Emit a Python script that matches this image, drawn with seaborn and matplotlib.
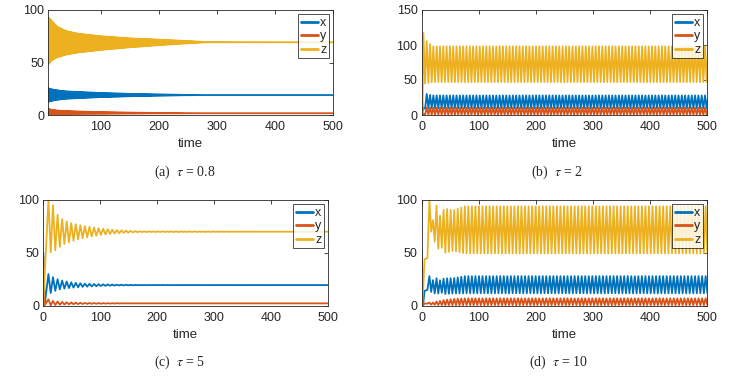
import numpy as np
import pandas as pd
import matplotlib
matplotlib.use("Agg")
import matplotlib.pyplot as plt
import seaborn as sns

# ---------------- data ----------------
T_END = 500
series_names = ["x", "y", "z"]
series_colors = ["#0072BD", "#D95319", "#EDB120"]

# (a) tau = 0.8 : fast oscillation, envelopes at knot times
a_period = 1.6
a_start = 9.6
a_knots = [9.6, 15, 25, 40, 60, 100, 150, 200, 250, 280, 500]
a_z_hi = [93, 90, 84, 80, 77.5, 75, 73, 71.8, 70.5, 69.5, 69.3]
a_z_lo = [48, 52, 55, 57.5, 59.5, 62, 64.5, 66.5, 68.3, 69.2, 69.3]
a_x_hi = [25.5, 24.5, 23.5, 22.5, 22, 21, 20.2, 19.6, 19.2, 19.0, 19.0]
a_x_lo = [12.5, 13.5, 14.5, 15.5, 16, 17, 17.8, 18.4, 18.8, 19.0, 19.0]
a_y_hi = [6, 5, 4.3, 3.8, 3.4, 2.8, 2.3, 2.0, 1.8, 1.7, 1.7]
a_y_lo = [0.5, 0.7, 0.9, 1.0, 1.1, 1.2, 1.4, 1.5, 1.6, 1.7, 1.7]

# (b) tau = 2 : sustained oscillation
b_pre_t = [0, 1.2, 3.0]
b_z_pre = [50, 2, 117]
b_x_pre = [50, 5, 10]
b_y_pre = [50, 0.5, 2]
b_period = 5.8
b_start = 5.9
b_knots = [5.9, 12, 20, 500]
b_z_hi = [108, 103, 98, 98]
b_z_lo = [45, 46, 47, 47]
b_x_hi = [31, 29, 28, 28]
b_x_lo = [9, 9.5, 9.5, 9.5]
b_y_hi = [11, 10.5, 10.5, 10.5]
b_y_lo = [0.5, 0.5, 0.5, 0.5]

# (c) tau = 5 : damped oscillation
c_pre_t = [0, 2.5]
c_z_pre = [0, 30]
c_x_pre = [50, 1]
c_y_pre = [47, 0.5]
c_period = 8.0
c_start = 9.0
c_knots = [9, 17, 25, 35, 50, 70, 100, 130, 170, 500]
c_z_hi = [100, 95, 86, 81, 78, 75.5, 73, 71.5, 70.3, 70]
c_z_lo = [50, 51, 54, 58, 61, 64, 67, 68.5, 69.7, 70]
c_x_hi = [30, 27, 25, 23.5, 22, 21, 20.3, 19.9, 19.6, 19.5]
c_x_lo = [11, 13, 15, 16, 17, 17.8, 18.6, 19.1, 19.4, 19.5]
c_y_hi = [6, 4.5, 4, 3.5, 3, 2.7, 2.4, 2.3, 2.2, 2.2]
c_y_lo = [0.3, 0.5, 0.8, 1.0, 1.3, 1.6, 1.9, 2.1, 2.2, 2.2]

# (d) tau = 10 : sustained oscillation after irregular transient
d_pre_t = [0, 2.5, 5, 10]
d_z_pre = [0, 15, 44, 45]
d_x_pre = [50, 1, 14, 15]
d_y_pre = [47, 0.5, 2, 2]
d_period = 6.2
d_start = 13.5
d_knots = [13.5, 20, 26, 32, 40, 55, 75, 500]
d_z_hi = [100, 80, 95, 85, 92, 90, 94, 94]
d_z_lo = [70, 70, 50, 58, 50, 52, 49.5, 49.5]
d_x_hi = [28, 24, 26, 24, 26, 26, 28, 28]
d_x_lo = [13, 13, 10, 13, 11, 11.5, 11.7, 11.7]
d_y_hi = [3, 3, 4, 4.5, 5.5, 6.5, 7, 7]
d_y_lo = [1, 1, 0.7, 0.6, 0.5, 0.5, 0.5, 0.5]

captions = [r"(a)  $\tau$ = 0.8", r"(b)  $\tau$ = 2", r"(c)  $\tau$ = 5", r"(d)  $\tau$ = 10"]


def zigzag(pre_t, pre_v, start, period, knots, hi, lo, start_high=True):
    t = np.arange(start, T_END + period, period / 2.0)
    up = np.interp(t, knots, hi)
    dn = np.interp(t, knots, lo)
    even = (np.arange(len(t)) % 2 == 0)
    v = np.where(even == start_high, up, dn)
    return np.concatenate([np.asarray(pre_t, float), t]), np.concatenate([np.asarray(pre_v, float), v])


def frame(parts):
    rows = []
    for name, (t, v) in zip(series_names, parts):
        rows.append(pd.DataFrame({"time": t, "value": v, "var": name}))
    return pd.concat(rows, ignore_index=True)


df_a = frame([
    zigzag([], [], a_start, a_period, a_knots, a_x_hi, a_x_lo),
    zigzag([], [], a_start, a_period, a_knots, a_y_hi, a_y_lo),
    zigzag([], [], a_start, a_period, a_knots, a_z_hi, a_z_lo),
])
df_b = frame([
    zigzag(b_pre_t, b_x_pre, b_start, b_period, b_knots, b_x_hi, b_x_lo, False),
    zigzag(b_pre_t, b_y_pre, b_start, b_period, b_knots, b_y_hi, b_y_lo, False),
    zigzag(b_pre_t, b_z_pre, b_start, b_period, b_knots, b_z_hi, b_z_lo, False),
])
df_c = frame([
    zigzag(c_pre_t, c_x_pre, c_start, c_period, c_knots, c_x_hi, c_x_lo),
    zigzag(c_pre_t, c_y_pre, c_start, c_period, c_knots, c_y_hi, c_y_lo),
    zigzag(c_pre_t, c_z_pre, c_start, c_period, c_knots, c_z_hi, c_z_lo),
])
df_d = frame([
    zigzag(d_pre_t, d_x_pre, d_start, d_period, d_knots, d_x_hi, d_x_lo),
    zigzag(d_pre_t, d_y_pre, d_start, d_period, d_knots, d_y_hi, d_y_lo),
    zigzag(d_pre_t, d_z_pre, d_start, d_period, d_knots, d_z_hi, d_z_lo),
])

# ---------------- drawing ----------------
sns.set_style("white")
plt.rcParams["font.family"] = ["Liberation Sans", "DejaVu Sans"]
plt.rcParams["mathtext.fontset"] = "stix"

W, H = 754, 378
fig = plt.figure(figsize=(W / 100, H / 100), dpi=100)

# (left, top, width, height) in pixels
boxes = [(48.3, 10, 285, 105), (421.7, 10, 285.6, 105),
         (43.3, 200, 285, 105.7), (421.7, 200, 285.6, 105.7)]
xlims = [(9.6, 500), (0, 500), (0, 500), (0, 500)]
ylims = [(0, 100), (0, 150), (0, 100), (0, 100)]
yticks = [[0, 50, 100], [0, 50, 100, 150], [0, 50, 100], [0, 50, 100]]
cap_pos = [(185, 172), (557, 172), (180, 362), (558, 362)]
dfs = [df_a, df_b, df_c, df_d]
edge = "#262626"

for i, df in enumerate(dfs):
    l, t, w, h = boxes[i]
    ax = fig.add_axes([l / W, 1 - (t + h) / H, w / W, h / H])
    sns.lineplot(data=df, x="time", y="value", hue="var", hue_order=series_names,
                 palette=series_colors, estimator=None, sort=False, legend=False,
                 linewidth=1.3, ax=ax)
    ax.set_xlim(*xlims[i])
    ax.set_ylim(*ylims[i])
    ax.set_xticks([0, 100, 200, 300, 400, 500] if i else [100, 200, 300, 400, 500])
    ax.set_yticks(yticks[i])
    ax.set_xlabel("time", fontsize=9.5, color=edge, labelpad=3.5)
    ax.set_ylabel("")
    ax.tick_params(direction="in", top=True, right=True, length=3, width=0.6,
                   labelsize=9, colors=edge, pad=3)
    ax.tick_params(axis="x", pad=4.5)
    for s in ax.spines.values():
        s.set_color(edge)
        s.set_linewidth(0.6)
    handles = ax.get_lines()[:3]
    leg = ax.legend(handles, series_names, loc="upper right", fontsize=9,
                    frameon=True, fancybox=False, handlelength=1.4,
                    handletextpad=0.15, borderpad=0.2, labelspacing=0.12,
                    borderaxespad=0.35)
    leg.get_frame().set_edgecolor("black")
    leg.get_frame().set_linewidth(0.6)
    for lh in leg.get_lines():
        lh.set_linewidth(2.0)
    for txt in leg.get_texts():
        txt.set_color(edge)
    cx, cy = cap_pos[i]
    fig.text(cx / W, 1 - cy / H, captions[i], ha="center", va="center",
             fontsize=10, family=["Liberation Serif", "DejaVu Serif"])

fig.savefig("out.png", dpi=100)
